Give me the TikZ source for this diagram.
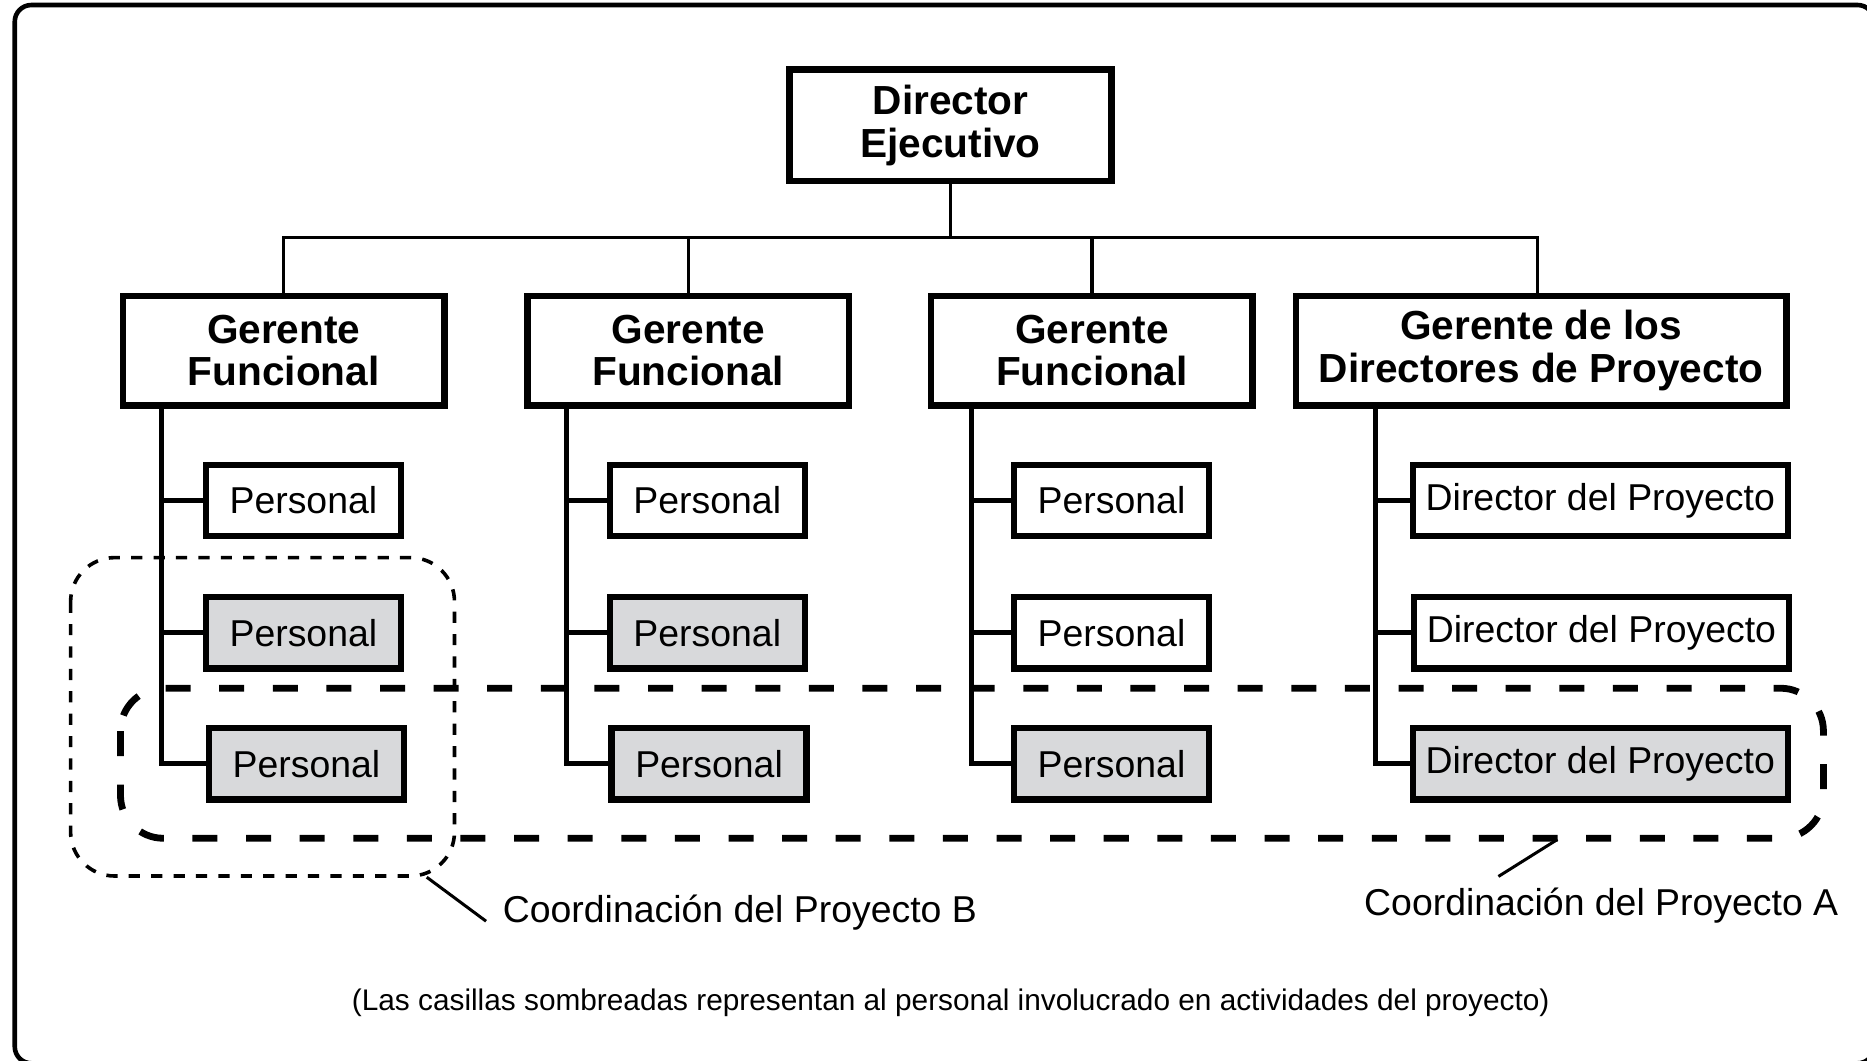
\documentclass[tikz,border=0pt]{standalone}
\usepackage{fontspec}
\setmainfont{Liberation Sans}
\definecolor{shade}{RGB}{216,217,219}
\begin{document}
\begin{tikzpicture}[x=0.5953pt,y=-0.5953pt,
  box/.style={draw,line width=3.2pt,inner sep=0pt,font=\fontsize{18.7}{22}\selectfont},
  pbox/.style={box,minimum width=97.5pt,minimum height=35.7pt},
  dbox/.style={box,minimum width=187.5pt,minimum height=35.7pt},
  gbox/.style={draw,line width=3.2pt,inner sep=0pt,align=center,
    font=\bfseries\fontsize{20.3}{21.2}\selectfont,minimum width=160.7pt,minimum height=54.8pt},
  shaded/.style={fill=shade},
  bus/.style={line width=1.7pt},
  trunk/.style={line width=2.5pt},
  projB/.style={line width=1.8pt,dash pattern=on 5.6pt off 5.6pt,rounded corners=22pt},
  projA/.style={line width=3.4pt,dash pattern=on 12.5pt off 14.3pt,rounded corners=21.4pt},
  lead/.style={line width=1.5pt},
  lbl/.style={font=\fontsize{18.7}{22}\selectfont,inner sep=0pt},
  frame/.style={line width=2.3pt,rounded corners=8.3pt}
]
\useasboundingbox (0,0) rectangle (1568,891);
\clip (0,0) rectangle (1568,891);
\draw[frame] (12.4,4.2) rectangle (1574,893);

% top
\node[gbox,minimum width=160.9pt,minimum height=55.7pt] (DE) at (798.3,105.3) {Director\\Ejecutivo};
\node[gbox] (G1) at (238.3,294.5) {Gerente\\Funcional};
\node[gbox] (G2) at (578,294.5) {Gerente\\Funcional};
\node[gbox] (G3) at (917,294.5) {Gerente\\Funcional};
\node[gbox,minimum width=245.1pt] (G4) at (1294.4,294.5) {Gerente de los\\Directores de Proyecto};

\coordinate (bus) at (0,199.5);
\draw[bus] (DE.south) -- (DE.south |- bus);
\draw[bus] (G1.north) -- (G1.north |- bus) -| ([xshift=-2pt]G4.north);
\draw[bus] (G2.north) -- (G2.north |- bus);
\draw[bus] (G3.north) -- (G3.north |- bus);

% staff boxes
\node[pbox] (P11) at (254.8,420.3) {Personal};
\node[pbox,shaded] (P12) at (254.8,531.5) {Personal};
\node[pbox,shaded] (P13) at (257.4,641.5) {Personal};
\node[pbox] (P21) at (594,420.3) {Personal};
\node[pbox,shaded] (P22) at (594,531.5) {Personal};
\node[pbox,shaded] (P23) at (595.5,641.5) {Personal};
\node[pbox] (P31) at (933.5,420.3) {Personal};
\node[pbox] (P32) at (933.5,531.5) {Personal};
\node[pbox,shaded] (P33) at (933.5,641.5) {Personal};
\node[dbox] (D1) at (1344,420.3) {Director del Proyecto};
\node[dbox] (D2) at (1345,531.5) {Director del Proyecto};
\node[dbox,shaded] (D3) at (1344,641.5) {Director del Proyecto};

% trunks
\coordinate (t1) at (135.7,343);
\coordinate (t2) at (476,343);
\coordinate (t3) at (816,343);
\coordinate (t4) at (1155.6,343);
\draw[trunk] (t1) |- (P13.west);
\draw[trunk] (t1 |- P11.west) -- (P11.west);
\draw[trunk] (t1 |- P12.west) -- (P12.west);
\draw[trunk] (t2) |- (P23.west);
\draw[trunk] (t2 |- P21.west) -- (P21.west);
\draw[trunk] (t2 |- P22.west) -- (P22.west);
\draw[trunk] (t3) |- (P33.west);
\draw[trunk] (t3 |- P31.west) -- (P31.west);
\draw[trunk] (t3 |- P32.west) -- (P32.west);
\draw[trunk] (t4) |- (D3.west);
\draw[trunk] (t4 |- D1.west) -- (D1.west);
\draw[trunk] (t4 |- D2.west) -- (D2.west);

% project groupings
\draw[projB] (59.3,468.3) rectangle (381.7,735.7);
\draw[projA] (101.2,578) rectangle (1531.4,704);

% labels
\node[lbl,anchor=base west] (lB) at (422,775) {Coordinación del Proyecto B};
\coordinate (cB) at (358.4,736.7);
\draw[lead] (cB) -- ([shift={(-8.2pt,0.8pt)}]lB.base west);
\node[lbl,anchor=base west] (lA) at (1145.4,769) {Coordinación del Proyecto A};
\coordinate (cA) at (1308,705);
\draw[lead] (cA) -- ([shift={(67.3pt,19.6pt)}]lA.base west);

\node[font=\fontsize{14.9}{18}\selectfont,anchor=base,inner sep=0pt] (cap) at (798.5,849)
  {(Las casillas sombreadas representan al personal involucrado en actividades del proyecto)};
\end{tikzpicture}
\end{document}
